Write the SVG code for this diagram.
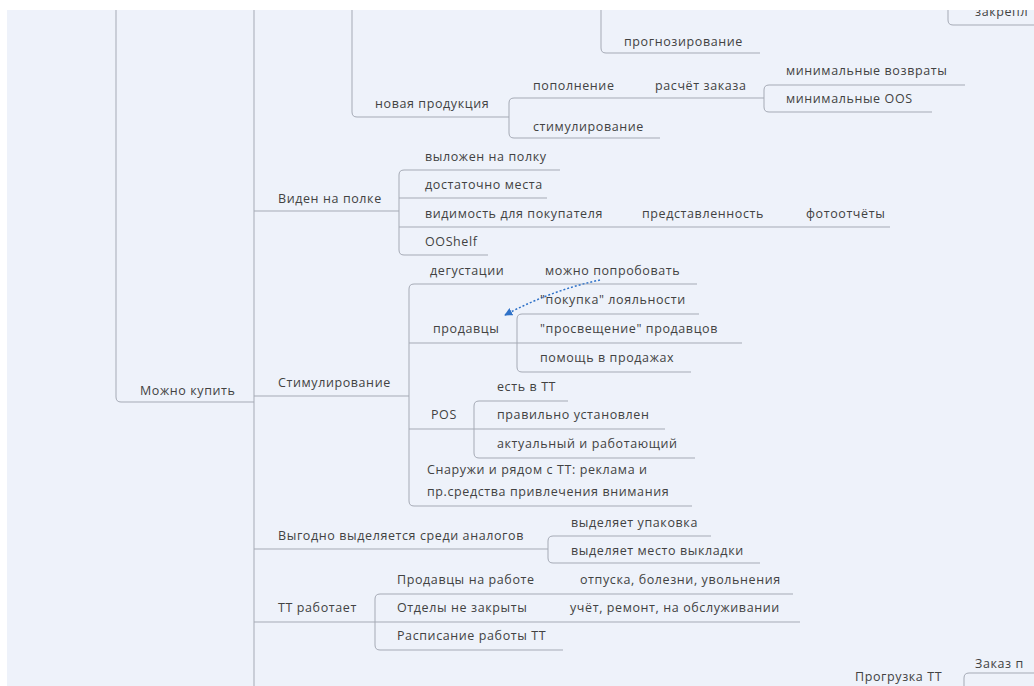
<svg xmlns="http://www.w3.org/2000/svg" width="1034" height="686" viewBox="0 0 1034 686">
<style>
.bg{fill:#eef2fa}
.ln{fill:none;stroke:#a5aab5;stroke-width:1}
.t{font-family:"Open Sans","DejaVu Sans",sans-serif;font-size:12.5px;letter-spacing:0.6px;fill:#424242}
.arr{fill:none;stroke:#2f72c8;stroke-width:1.5;stroke-dasharray:2 2}
</style>
<defs>
<marker id="ah" viewBox="0 0 10 10" refX="9" refY="5" markerWidth="8" markerHeight="8" orient="auto-start-reverse" markerUnits="userSpaceOnUse">
<path d="M0 0 L10 5 L0 10 Z" fill="#2f72c8"/>
</marker>
</defs>
<rect class="bg" x="0" y="0" width="1034" height="686"/>
<g id="connectors">
<path class="ln" d="M116 10 V397 Q116 402 121 402 H254"/>
<path class="ln" d="M254 10 V686"/>
<path class="ln" d="M352 10 V112 Q352 117 357 117 H509"/>
<path class="ln" d="M601 10 V48 Q601 53 606 53 H760"/>
<path class="ln" d="M948 10 V20 Q948 25 953 25 H1034"/>
<path class="ln" d="M514 98 Q509 98 509 103 V133 Q509 138 514 138 H660"/>
<path class="ln" d="M514 98 H764"/>
<path class="ln" d="M769 85 Q764 85 764 90 V107 Q764 112 769 112 H932"/>
<path class="ln" d="M769 85 H965"/>
<path class="ln" d="M254 211 H399"/>
<path class="ln" d="M404 170 Q399 170 399 175 V250 Q399 255 404 255 H488"/>
<path class="ln" d="M404 170 H560"/>
<path class="ln" d="M399 198 H547"/>
<path class="ln" d="M399 227 H890"/>
<path class="ln" d="M254 396 H409"/>
<path class="ln" d="M414 284 Q409 284 409 289 V501 Q409 506 414 506 H692"/>
<path class="ln" d="M414 284 H697"/>
<path class="ln" d="M409 343 H742"/>
<path class="ln" d="M522 314 Q517 314 517 319 V367 Q517 372 522 372 H691"/>
<path class="ln" d="M522 314 H699"/>
<path class="ln" d="M409 429 H665"/>
<path class="ln" d="M479 401 Q474 401 474 406 V453 Q474 458 479 458 H695"/>
<path class="ln" d="M479 401 H568"/>
<path class="ln" d="M254 549 H548"/>
<path class="ln" d="M553 536 Q548 536 548 541 V558 Q548 563 553 563 H760"/>
<path class="ln" d="M553 536 H711"/>
<path class="ln" d="M254 622 H800"/>
<path class="ln" d="M380 594 Q375 594 375 599 V645 Q375 650 380 650 H563"/>
<path class="ln" d="M380 594 H793"/>
<path class="ln" d="M969 673 Q964 673 964 678 V686"/>
<path class="ln" d="M969 673 H1034"/>
<path class="arr" d="M600 280 Q552 290 505 315" marker-end="url(#ah)"/>
</g>
<g id="n-zakrepl"><text class="t" x="975" y="16">закрепл</text></g>
<g id="n-prognoz"><text class="t" x="624" y="46">прогнозирование</text></g>
<g id="n-minvozv"><text class="t" x="786" y="75">минимальные возвраты</text></g>
<g id="n-popoln"><text class="t" x="533" y="90">пополнение</text></g>
<g id="n-raschet"><text class="t" x="655" y="90">расчёт заказа</text></g>
<g id="n-minoos"><text class="t" x="786" y="103">минимальные OOS</text></g>
<g id="n-novaya"><text class="t" x="375" y="108">новая продукция</text></g>
<g id="n-stimul2"><text class="t" x="533" y="131">стимулирование</text></g>
<g id="n-vylozhen"><text class="t" x="425" y="161">выложен на полку</text></g>
<g id="n-dostat"><text class="t" x="425" y="189">достаточно места</text></g>
<g id="n-viden"><text class="t" x="278" y="203">Виден на полке</text></g>
<g id="n-vidimost"><text class="t" x="425" y="218">видимость для покупателя</text></g>
<g id="n-predst"><text class="t" x="642" y="218">представленность</text></g>
<g id="n-foto"><text class="t" x="806" y="218">фотоотчёты</text></g>
<g id="n-ooshelf"><text class="t" x="425" y="246">OOShelf</text></g>
<g id="n-degust"><text class="t" x="430" y="275">дегустации</text></g>
<g id="n-mozhno-pop"><text class="t" x="545" y="275">можно попробовать</text></g>
<g id="n-pokupka"><text class="t" x="540" y="304">"покупка" лояльности</text></g>
<g id="n-prodavcy"><text class="t" x="433" y="333">продавцы</text></g>
<g id="n-prosv"><text class="t" x="540" y="333">"просвещение" продавцов</text></g>
<g id="n-pomosh"><text class="t" x="540" y="362">помощь в продажах</text></g>
<g id="n-mozhno-kupit"><text class="t" x="140" y="395">Можно купить</text></g>
<g id="n-stimul"><text class="t" x="278" y="387">Стимулирование</text></g>
<g id="n-est"><text class="t" x="497" y="391">есть в ТТ</text></g>
<g id="n-pos"><text class="t" x="431" y="419">POS</text></g>
<g id="n-pravilno"><text class="t" x="497" y="419">правильно установлен</text></g>
<g id="n-aktual"><text class="t" x="497" y="448">актуальный и работающий</text></g>
<g id="n-snaruzhi"><text class="t" x="427" y="474">Снаружи и рядом с ТТ: реклама и</text><text class="t" x="427" y="496">пр.средства привлечения внимания</text></g>
<g id="n-upakovka"><text class="t" x="571" y="527">выделяет упаковка</text></g>
<g id="n-vygodno"><text class="t" x="278" y="540">Выгодно выделяется среди аналогов</text></g>
<g id="n-mesto"><text class="t" x="571" y="555">выделяет место выкладки</text></g>
<g id="n-prod-rab"><text class="t" x="397" y="584">Продавцы на работе</text></g>
<g id="n-otpuska"><text class="t" x="580" y="584">отпуска, болезни, увольнения</text></g>
<g id="n-tt-rab"><text class="t" x="278" y="612">ТТ работает</text></g>
<g id="n-otdely"><text class="t" x="397" y="612">Отделы не закрыты</text></g>
<g id="n-uchet"><text class="t" x="570" y="612">учёт, ремонт, на обслуживании</text></g>
<g id="n-raspis"><text class="t" x="397" y="640">Расписание работы ТТ</text></g>
<g id="n-progruzka"><text class="t" x="855" y="681">Прогрузка ТТ</text></g>
<g id="n-zakaz"><text class="t" x="975" y="668">Заказ п</text></g>
<rect x="0" y="0" width="1034" height="10" fill="#ffffff"/>
<rect x="0" y="0" width="7" height="686" fill="#ffffff"/>
</svg>
